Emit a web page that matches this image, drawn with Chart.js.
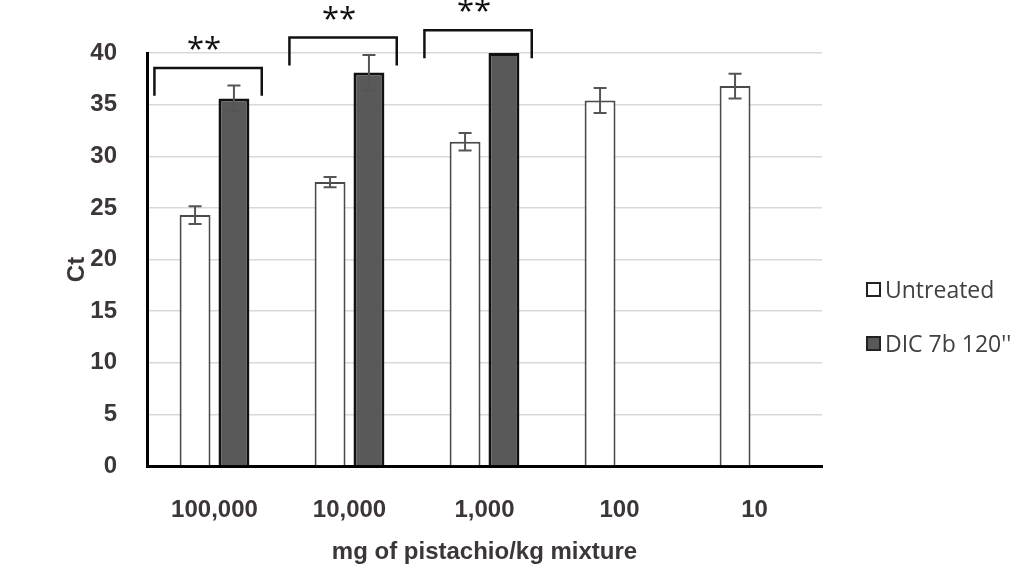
<!DOCTYPE html>
<html>
<head>
<meta charset="utf-8">
<script src="https://cdn.jsdelivr.net/npm/chart.js@4"></script>
<style>
  body { margin: 0; background: #fff; }
  #wrap { position: relative; width: 1029px; height: 569px; }
  #legend { position: absolute; left: 866px; top: 274px; font-family: "Open Sans", sans-serif; font-size: 23px; color: #404040; }
  .item { display: flex; align-items: center; height: 30px; margin-bottom: 24px; white-space: nowrap; }
  .box { width: 11px; height: 11px; border: 2px solid #222; margin-right: 4px; }
</style>
</head>
<body>
<div id="wrap">
  <canvas id="chart"></canvas>
  <div id="legend"></div>
</div>
<script>
const categories = ['100,000', '10,000', '1,000', '100', '10'];
const untreated = [24.3, 27.5, 31.4, 35.4, 36.8];
const untreatedErr = [0.85, 0.5, 0.85, 1.2, 1.2];
const dic = [35.6, 38.1, 40.0, null, null];
const dicErr = [1.25, 1.7, 0, null, null];
const significance = ['**', '**', '**', '', ''];
const yTicks = [0, 5, 10, 15, 20, 25, 30, 35, 40];

const tickColor = '#3d3636';
const labelFont = { family: 'Liberation Sans', size: 24, weight: 'bold' };

// error bars drawn on top of each bar
const errorBars = {
  id: 'errorBars',
  afterDatasetsDraw(chart) {
    const ctx = chart.ctx;
    const y = chart.scales.y;
    chart.data.datasets.forEach((ds, di) => {
      const meta = chart.getDatasetMeta(di);
      meta.data.forEach((bar, i) => {
        const v = ds.data[i];
        const e = ds.errors[i];
        if (v == null || !e) return;
        const top = y.getPixelForValue(v + e);
        const bot = y.getPixelForValue(v - e);
        ctx.save();
        ctx.strokeStyle = '#555';
        ctx.lineWidth = 2;
        ctx.beginPath();
        ctx.moveTo(bar.x, top); ctx.lineTo(bar.x, bot);
        ctx.moveTo(bar.x - 6.5, top); ctx.lineTo(bar.x + 6.5, top);
        ctx.moveTo(bar.x - 6.5, bot); ctx.lineTo(bar.x + 6.5, bot);
        ctx.stroke();
        ctx.restore();
      });
    });
  }
};

// significance brackets over the pairs
const brackets = {
  id: 'brackets',
  afterDraw(chart) {
    const ctx = chart.ctx;
    const x = chart.scales.x, y = chart.scales.y;
    const cw = x.getPixelForValue(1) - x.getPixelForValue(0);
    significance.forEach((s, i) => {
      if (!s) return;
      const c = x.getPixelForValue(i);
      const l = c - 0.445 * cw, r = c + 0.35 * cw;
      const topVal = Math.max(dic[i] + (dicErr[i] || 0) + 1.7, dic[i] + 2.2);
      const yt = y.getPixelForValue(topVal);
      const yb = y.getPixelForValue(topVal - 2.7);
      ctx.save();
      ctx.strokeStyle = '#111';
      ctx.lineWidth = 2.5;
      ctx.beginPath();
      ctx.moveTo(l, yb); ctx.lineTo(l, yt); ctx.lineTo(r, yt); ctx.lineTo(r, yb);
      ctx.stroke();
      ctx.fillStyle = '#111';
      ctx.font = '31px "Open Sans"';
      ctx.textAlign = 'center';
      ctx.textBaseline = 'alphabetic';
      ctx.fillText(s, (l + r) / 2 - 4, yt - 9);
      ctx.restore();
    });
  }
};

const chart = new Chart(document.getElementById('chart'), {
  type: 'bar',
  data: {
    labels: categories,
    datasets: [
      {
        label: 'Untreated',
        data: untreated,
        errors: untreatedErr,
        backgroundColor: '#ffffff',
        borderColor: '#4a4a4a',
        borderWidth: 2,
        categoryPercentage: 0.576,
        barPercentage: 0.795
      },
      {
        label: "DIC 7b 120''",
        data: dic,
        errors: dicErr,
        backgroundColor: '#595959',
        borderColor: '#111111',
        borderWidth: 3,
        categoryPercentage: 0.576,
        barPercentage: 0.795
      }
    ]
  },
  options: {
    responsive: true,
    maintainAspectRatio: false,
    animation: false,
    layout: { padding: { top: 53, right: 207, bottom: 0, left: 0 } },
    plugins: {
      legend: { display: false },
      tooltip: { enabled: false }
    },
    scales: {
      x: {
        grid: { display: false, drawTicks: false },
        border: { color: '#000', width: 3 },
        ticks: { color: tickColor, padding: 30, font: labelFont },
        title: { display: true, text: 'mg of pistachio/kg mixture', color: tickColor, padding: { top: 0, bottom: 2 }, font: labelFont },
        afterFit(s) { s.height = 103; }
      },
      y: {
        min: 0,
        max: 40,
        afterBuildTicks(s) { s.ticks = yTicks.map(v => ({ value: v })); },
        grid: { color: '#d9d9d9', lineWidth: 1.5, drawTicks: false },
        border: { color: '#000', width: 3 },
        ticks: { color: tickColor, padding: 30, font: labelFont },
        title: { display: true, text: 'Ct   ', color: tickColor, padding: { top: 63, bottom: 0 }, font: labelFont },
        afterFit(s) { s.width = 147; }
      }
    }
  },
  plugins: [errorBars, brackets]
});

const legend = document.getElementById('legend');
chart.data.datasets.forEach(ds => {
  const item = document.createElement('div');
  item.className = 'item';
  const box = document.createElement('span');
  box.className = 'box';
  box.style.background = ds.backgroundColor;
  const txt = document.createElement('span');
  txt.textContent = ds.label;
  item.appendChild(box);
  item.appendChild(txt);
  legend.appendChild(item);
});
</script>
</body>
</html>
